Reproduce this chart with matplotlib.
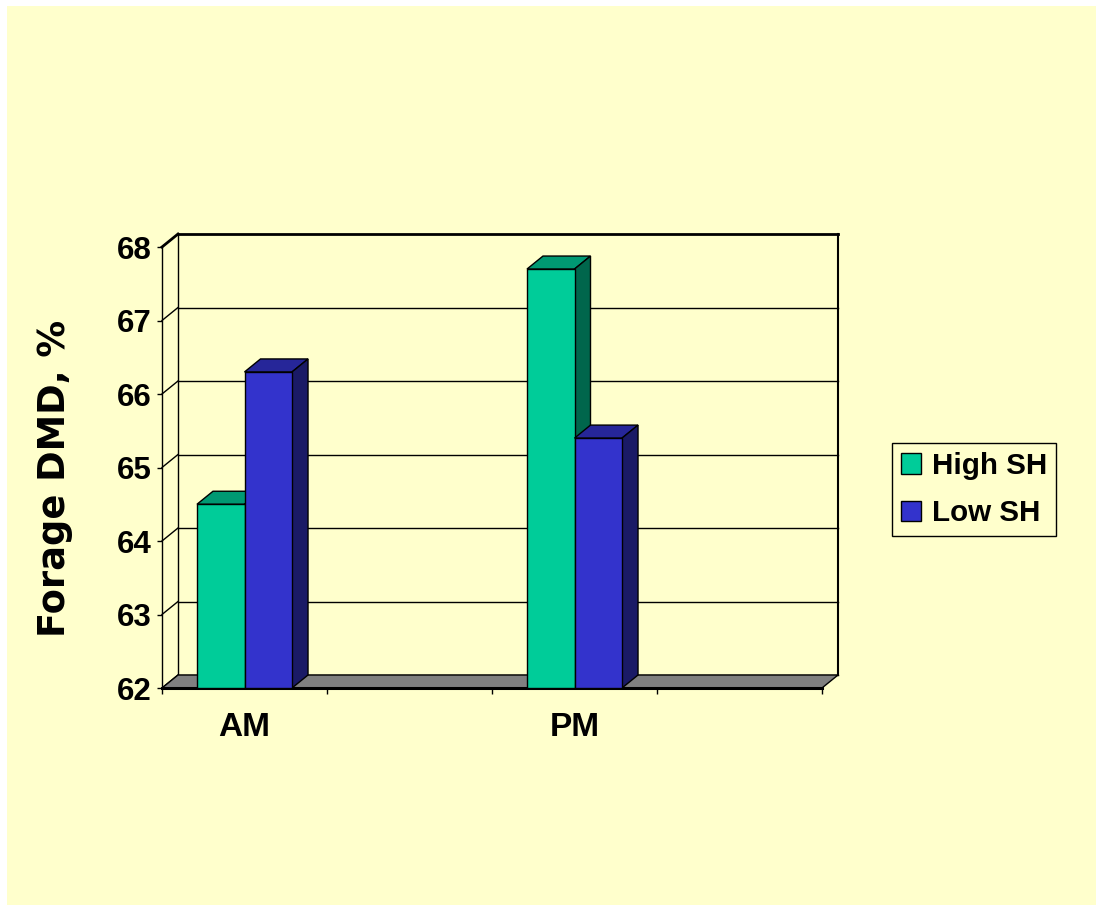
import matplotlib.pyplot as plt
import numpy as np
from matplotlib.patches import Patch, Polygon, Rectangle

# Forage DMD by time of day, two stubble-height treatments
categories = ["AM", "", "PM", ""]
high_sh = [64.5, np.nan, 67.7, np.nan]
low_sh = [66.3, np.nan, 65.4, np.nan]
series_names = ["High SH", "Low SH"]
y_ticks = [62, 63, 64, 65, 66, 67, 68]

BG = "#FFFFCC"
FACE = {"High SH": ("#00CC99", "#009973", "#00664C"),
        "Low SH": ("#3333CC", "#262699", "#1A1A66")}
TICK_FONT = dict(family="Liberation Sans", weight="bold")

W, H = 1096, 905
fig = plt.figure(figsize=(W / 100, H / 100), dpi=100, facecolor="white")
fig.patches.append(Rectangle((7 / W, 0), 1, 1 - 6 / H, transform=fig.transFigure,
                             facecolor=BG, edgecolor="none", zorder=-10))

ax = fig.add_axes([162 / W, 1 - 688 / H, 660 / W, 441 / H])
ax.patch.set_visible(False)
n = len(categories)
ymin, ymax = y_ticks[0], y_ticks[-1]
ax.set_xlim(0, n)
ax.set_ylim(ymin, ymax)

# depth of the 3-D box, 16 px right and 13 px up, in data units
DX = 16 / (ax.bbox.width / n)
DY = 13 / (ax.bbox.height / (ymax - ymin))

# back wall, side-wall diagonals and gridlines
ax.add_patch(Rectangle((DX, ymin + DY), n, ymax - ymin, facecolor=BG,
                       edgecolor="none", zorder=0))
for t in y_ticks:
    lw = 2 if t == ymax else 1
    ax.plot([DX, n + DX], [t + DY, t + DY], color="black", lw=lw, zorder=1,
            clip_on=False)
    ax.plot([0, DX], [t, t + DY], color="black", lw=lw, zorder=1, clip_on=False)
ax.plot([DX, DX], [ymin + DY, ymax + DY], color="black", lw=1, zorder=1, clip_on=False)
ax.plot([n + DX, n + DX], [ymin + DY, ymax + DY], color="black", lw=1.5, zorder=1,
        clip_on=False)

# floor
ax.add_patch(Polygon([(0, ymin), (n, ymin), (n + DX, ymin + DY), (DX, ymin + DY)],
                     closed=True, facecolor="#808080", edgecolor="black", lw=1,
                     zorder=2, clip_on=False))
ax.plot([0, n], [ymin, ymin], color="black", lw=2.2, zorder=2, clip_on=False)

# 3-D columns
bw = 0.288
x = np.arange(n) + 0.5
z = 3
for i, xc in enumerate(x):
    for k, (name, vals) in enumerate(zip(series_names, [high_sh, low_sh])):
        v = vals[i]
        if np.isnan(v):
            continue
        front, top, side = FACE[name]
        x0 = xc - bw + k * bw
        x1 = x0 + bw
        ax.add_patch(Polygon([(x0, v), (x1, v), (x1 + DX, v + DY), (x0 + DX, v + DY)],
                             closed=True, facecolor=top, edgecolor="black", lw=1,
                             zorder=z, clip_on=False))
        ax.add_patch(Polygon([(x1, ymin), (x1, v), (x1 + DX, v + DY), (x1 + DX, ymin + DY)],
                             closed=True, facecolor=side, edgecolor="black", lw=1,
                             zorder=z, clip_on=False))
        ax.bar(x0, v - ymin, width=bw, bottom=ymin, align="edge", color=front,
               edgecolor="black", lw=1, zorder=z + 1, clip_on=False)
        z += 2

# axes, ticks and labels
for s in ["top", "right", "bottom"]:
    ax.spines[s].set_visible(False)
ax.spines["left"].set_linewidth(1)
ax.spines["left"].set_zorder(z)
ax.set_yticks(y_ticks)
ax.set_yticklabels([str(t) for t in y_ticks], fontsize=22.5, **TICK_FONT)
ax.tick_params(axis="y", length=3.6, width=1, pad=3.6, direction="out")

ax.set_xticks(np.arange(n + 1))
ax.set_xticklabels([])
ax.set_xticks(x, minor=True)
ax.set_xticklabels(categories, minor=True, fontsize=24, **TICK_FONT)
ax.tick_params(axis="x", which="major", length=4.5, width=1, direction="out")
ax.tick_params(axis="x", which="minor", length=0, pad=17)

fig.text(55 / W, 1 - 478 / H, "Forage DMD, %", rotation=90, ha="center", va="center",
         fontsize=26.5, family="DejaVu Sans", weight="bold")

handles = [Patch(facecolor=FACE[s][0], edgecolor="black", lw=1) for s in series_names]
leg = fig.legend(handles, series_names, loc="upper left",
                 bbox_to_anchor=(892 / W, 1 - 443 / H), borderaxespad=0,
                 prop=dict(family="Liberation Sans", weight="bold", size=21.3),
                 handlelength=0.68, handleheight=0.68, handletextpad=0.37,
                 borderpad=0.3, labelspacing=0.65, fancybox=False, framealpha=1,
                 facecolor=BG, edgecolor="black")
leg.get_frame().set_linewidth(1)

fig.savefig("out.png", dpi=100, facecolor="white")
